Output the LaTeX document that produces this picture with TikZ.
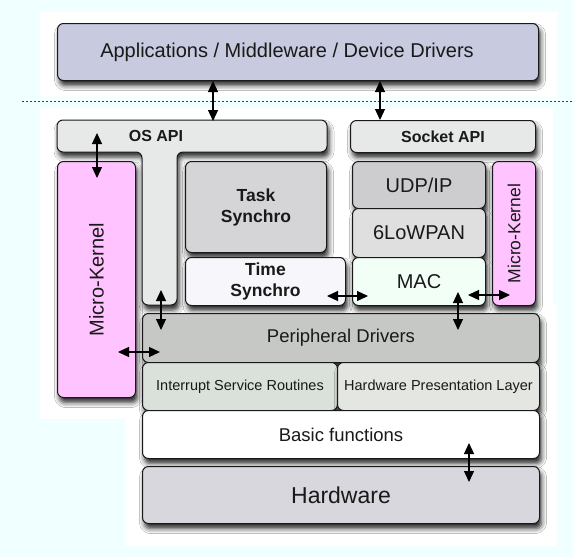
\documentclass[tikz,border=0pt]{standalone}
\usepackage{fontspec}
\setmainfont{Liberation Sans}
\usetikzlibrary{arrows.meta,shadows.blur,calc}
\definecolor{bgc}{RGB}{240,255,255}
\definecolor{appc}{RGB}{200,203,224}
\definecolor{apic}{RGB}{231,232,232}
\definecolor{mkc}{RGB}{255,196,255}
\definecolor{taskc}{RGB}{213,213,215}
\definecolor{timec}{RGB}{247,247,251}
\definecolor{udpc}{RGB}{205,205,207}
\definecolor{lowc}{RGB}{223,223,224}
\definecolor{macc}{RGB}{241,255,247}
\definecolor{perc}{RGB}{198,200,197}
\definecolor{isrc}{RGB}{217,225,218}
\definecolor{hplc}{RGB}{228,230,226}
\definecolor{hwc}{RGB}{215,215,221}
\definecolor{linec}{RGB}{25,25,25}
\begin{document}
\begin{tikzpicture}[x=1pt,y=-1pt,
  shade/.style={blur shadow={shadow xshift=2pt,shadow yshift=-5pt,shadow blur radius=5pt,shadow opacity=85}},
  box/.style={draw=linec,line width=1pt,rounded corners=6pt,anchor=north west,inner sep=0pt,align=center,text=black!90,shade},
  lbl/.style={inner sep=0pt,align=center,text=black!90},
  dbl/.style={{Triangle[length=11pt,width=10pt]}-{Triangle[length=11pt,width=10pt]},line width=1.2pt,draw=black},
]
% background
\fill[bgc] (0,0) rectangle (573,557);
\fill[white] (40,12) rectangle (557,97);
\fill[white] (40,108) rectangle (553,305);
\fill[white] (40,305) -- (557,305) -- (557,546) -- (125,546) -- (125,419) -- (40,419) -- cycle;
\useasboundingbox (0,0) rectangle (573,557);
\draw[black!75,line width=1pt,dash pattern=on 2pt off 2pt] (22,101) -- (573,101);

% top layer
\node[box,fill=appc,minimum width=481pt,minimum height=57pt] (app) at (57,23) {};
\node[lbl,font=\fontsize{20}{24}\selectfont] (apptext) at (287,52) {Applications / Middleware / Device Drivers};

% OS API (T shape)
\path[draw=linec,line width=1pt,fill=apic,rounded corners=6pt,shade]
  (57,120) -- (327,120) -- (327,152) -- (177,152) -- (177,305) -- (142,305) -- (142,152) -- (57,152) -- cycle;
\node[lbl,font=\fontsize{16}{19}\selectfont\bfseries] (osapi) at (156,136) {OS API};

\node[box,fill=apic,minimum width=185pt,minimum height=32pt,font=\fontsize{16}{19}\selectfont\bfseries] (sock) at (350,120) {Socket API};

% micro kernels
\node[box,fill=mkc,minimum width=78pt,minimum height=236pt] (mkl) at (57,161) {};
\node[lbl,rotate=90,font=\fontsize{20}{24}\selectfont] (mkltext) at (mkl.center) {Micro-Kernel};
\node[box,fill=mkc,minimum width=43pt,minimum height=144pt] (mkr) at (492,161) {};
\node[lbl,rotate=90,font=\fontsize{17.5}{21}\selectfont] (mkrtext) at (mkr.center) {Micro-Kernel};

% synchro
\node[box,fill=taskc,minimum width=141pt,minimum height=91pt,font=\fontsize{17.5}{21}\selectfont\bfseries] (task) at (185,161) {Task\\Synchro};
\node[box,fill=timec,minimum width=160pt,minimum height=48pt,font=\fontsize{17.5}{21}\selectfont\bfseries] (time) at (185,257) {Time\\Synchro};

% network stack
\node[box,fill=udpc,minimum width=133pt,minimum height=47pt,font=\fontsize{20}{24}\selectfont] (udp) at (352,161) {UDP/IP};
\node[box,fill=lowc,minimum width=133pt,minimum height=49pt,font=\fontsize{20}{24}\selectfont] (low) at (352,208) {6LoWPAN};
\node[box,fill=macc,minimum width=133pt,minimum height=48pt,font=\fontsize{20}{24}\selectfont] (mac) at (352,257) {MAC};

% lower layers
\node[box,fill=perc,minimum width=397pt,minimum height=49pt,font=\fontsize{18.5}{22}\selectfont] (per) at (142,313) {Peripheral Drivers};
\node[box,fill=isrc,minimum width=195pt,minimum height=48pt,font=\fontsize{14.5}{17}\selectfont] (isr) at (142,362) {Interrupt Service Routines};
\node[box,fill=hplc,minimum width=202pt,minimum height=48pt,font=\fontsize{14.5}{17}\selectfont] (hpl) at (337,362) {Hardware Presentation Layer};
\node[box,fill=white,minimum width=397pt,minimum height=48pt,font=\fontsize{18.5}{22}\selectfont] (basic) at (142,410) {Basic functions};
\node[box,fill=hwc,minimum width=397pt,minimum height=57pt,font=\fontsize{23}{27}\selectfont] (hw) at (142,466) {Hardware};

% arrow end points
\coordinate (a1t) at (app.south -| 213,0);
\coordinate (a1b) at (213,121);
\coordinate (a2t) at (app.south -| 380,0);
\coordinate (a2b) at (sock.north -| 380,0);
\coordinate (a3t) at (97,133);
\coordinate (a3b) at (97,178);
\coordinate (a4t) at (161,290);
\coordinate (a4b) at (161,330);
\coordinate (a5l) at (118,352);
\coordinate (a5r) at (160,352);
\coordinate (a6l) at (327,296);
\coordinate (a6r) at (368,296);
\coordinate (a7t) at (458,292);
\coordinate (a7b) at (458,330);
\coordinate (a8l) at (468,295);
\coordinate (a8r) at (510,295);
\coordinate (a9t) at (469,443);
\coordinate (a9b) at (469,482);

\draw[dbl] (a1t) -- (a1b);
\draw[dbl] (a2t) -- (a2b);
\draw[dbl] (a3t) -- (a3b);
\draw[dbl] (a4t) -- (a4b);
\draw[dbl] (a5l) -- (a5r);
\draw[dbl] (a6l) -- (a6r);
\draw[dbl] (a7t) -- (a7b);
\draw[dbl] (a8l) -- (a8r);
\draw[dbl] (a9t) -- (a9b);
\end{tikzpicture}
\end{document}
